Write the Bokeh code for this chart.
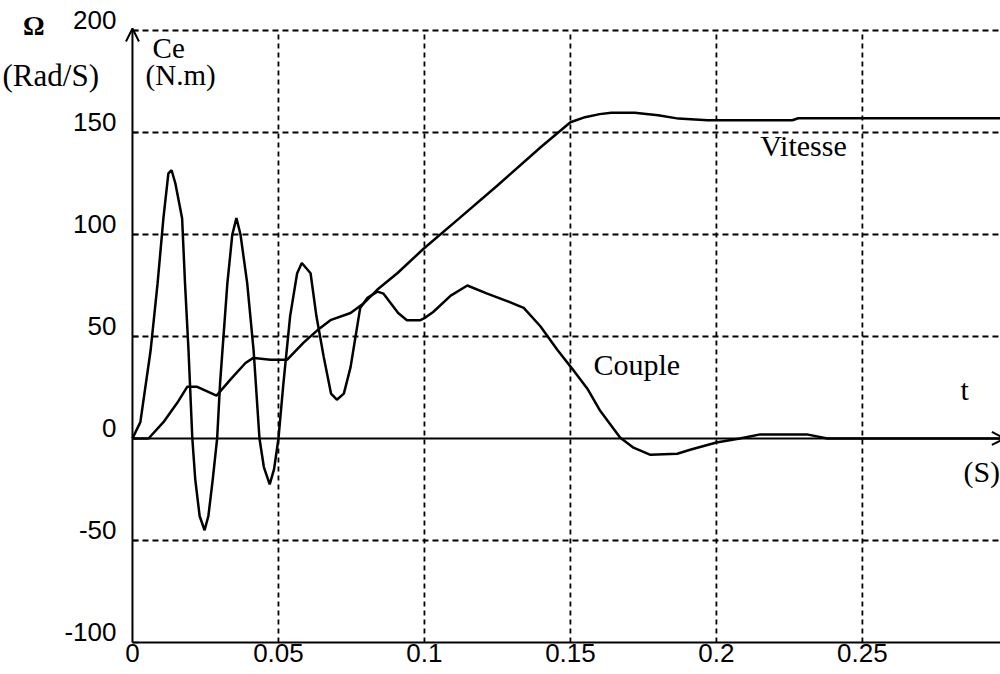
from bokeh.plotting import figure
from bokeh.models import Label, Arrow, OpenHead
from bokeh.core.properties import value
from bokeh.embed import file_html
from bokeh.resources import INLINE

# ---- data ----
t_couple = [0, 0.0027, 0.0062, 0.0086, 0.0106, 0.0123, 0.0134, 0.0147, 0.017, 0.018, 0.0192,
            0.0205, 0.0215, 0.023, 0.0247, 0.026, 0.0275, 0.029,
            0.030, 0.0325, 0.0342, 0.0356, 0.037, 0.0393, 0.0415,
            0.0435, 0.045, 0.047, 0.0485, 0.050,
            0.0517, 0.054, 0.0564, 0.058, 0.061, 0.063, 0.0655, 0.068, 0.070, 0.0724, 0.0747,
            0.078, 0.0805, 0.0839, 0.086, 0.091, 0.094, 0.0986, 0.1, 0.103, 0.109, 0.1147,
            0.1215, 0.129, 0.134, 0.1397, 0.1455, 0.1507, 0.156, 0.160, 0.167, 0.1716, 0.1774,
            0.1866, 0.191, 0.2, 0.208, 0.215, 0.231, 0.238, 0.2975]
couple = [0, 8, 43, 76, 108, 130, 131.5, 125, 108, 76, 43,
          0, -20, -38, -45, -38, -20, 0,
          27, 76, 100, 108, 100, 76, 43,
          0, -14, -22.5, -15, 0,
          27, 60, 81, 86, 81, 60, 40, 22, 19, 22, 35,
          64, 69, 72, 71, 61.5, 58, 58, 59, 62, 70, 75,
          71, 67, 64, 55, 43.5, 34, 24, 14, 0.5, -4.5, -8,
          -7.5, -5.5, -2, 0, 2, 2, 0, 0]

t_vitesse = [0, 0.0055, 0.0106, 0.0154, 0.0188, 0.022, 0.0288, 0.0336, 0.0387, 0.0414, 0.0473,
             0.053, 0.0586, 0.0633, 0.0678, 0.0747, 0.079, 0.0839, 0.0907, 0.0997, 0.112,
             0.125, 0.14, 0.15, 0.155, 0.16, 0.164, 0.172, 0.18, 0.187, 0.197, 0.226, 0.228,
             0.2975]
vitesse = [0, 0, 8, 17.6, 25.4, 25.4, 21, 29, 37, 39.5, 38.6,
           38.6, 47, 53, 58, 61.5, 66, 73, 81, 93, 108,
           124, 143, 155, 157.5, 159, 159.7, 159.7, 158.5, 156.8, 156, 156, 157,
           157]

x_ticks = [0, 0.05, 0.1, 0.15, 0.2, 0.25]
x_tick_labels = ["0", "0.05", "0.1", "0.15", "0.2", "0.25"]
y_ticks = [-100, -50, 0, 50, 100, 150, 200]
y_tick_labels = ["-100", "-50", "0", "50", "100", "150", "200"]

# axis window of the original plot
X_MIN, X_MAX = 0, 0.30
Y_MIN, Y_MAX = -100, 200

# canvas extent expressed in data units (the plot frame fills the whole page)
VIEW_X = (-0.0452, 0.2973)
VIEW_Y = (-115.7, 214.7)

NUM_FONT = value("Liberation Sans")
TXT_FONT = "Liberation Serif"

p = figure(width=1000, height=674, x_range=VIEW_X, y_range=VIEW_Y,
           output_backend="svg", toolbar_location=None,
           min_border=0, min_border_left=0, min_border_right=0,
           min_border_top=0, min_border_bottom=0)
p.outline_line_color = None
p.axis.visible = False
p.grid.visible = False
p.background_fill_color = "white"
p.border_fill_color = "white"

# dashed grid
vx = [t for t in x_ticks if t > X_MIN] + [X_MAX]
p.segment(x0=vx, y0=[Y_MIN] * len(vx), x1=vx, y1=[Y_MAX] * len(vx),
          line_color="black", line_width=1.8, line_dash="5 4")
hy = [y for y in y_ticks if y not in (Y_MIN, 0)]
p.segment(x0=[X_MIN] * len(hy), y0=hy, x1=[VIEW_X[1]] * len(hy), y1=hy,
          line_color="black", line_width=1.8, line_dash="6 4")

# bottom frame line
p.segment(x0=[X_MIN], y0=[Y_MIN], x1=[VIEW_X[1]], y1=[Y_MIN], line_color="black", line_width=2)

# inner ticks on the vertical axis
p.ray(x=[X_MIN] * len(y_ticks), y=y_ticks, length=6, length_units="screen", angle=0,
      line_color="black", line_width=1.5)

# curves
p.line(t_vitesse, vitesse, line_color="black", line_width=2.5)
p.line(t_couple, couple, line_color="black", line_width=2.5)

# axes with arrows
p.add_layout(Arrow(end=OpenHead(size=13, line_width=2, line_color="black"),
                   x_start=X_MIN, y_start=Y_MIN, x_end=X_MIN, y_end=Y_MAX + 1,
                   line_color="black", line_width=2))
p.add_layout(Arrow(end=OpenHead(size=13, line_width=2, line_color="black"),
                   x_start=X_MIN, y_start=0, x_end=VIEW_X[1] + 0.0015, y_end=0,
                   line_color="black", line_width=2))

# tick labels (vertical-axis labels sit just above their tick, as in the original)
p.text(x=[X_MIN] * len(y_ticks), y=y_ticks, text=y_tick_labels, x_offset=-16, y_offset=-10,
       text_align="right", text_baseline="middle",
       text_font=NUM_FONT, text_font_size="26px", text_color="black")
p.text(x=x_ticks, y=[Y_MIN] * len(x_ticks), text=x_tick_labels, y_offset=2,
       text_align="center", text_baseline="top",
       text_font=NUM_FONT, text_font_size="26px", text_color="black")

# annotations
def lab(txt, x, y, size="30px", style="normal"):
    p.add_layout(Label(x=x, y=y, text=txt, text_font=TXT_FONT, text_font_size=size,
                       text_font_style=style, text_color="black",
                       text_align="left", text_baseline="middle"))

lab("\u03a9", -0.0375, 202, size="27px", style="bold")
lab("(Rad/S)", -0.0445, 178, size="31px")
lab("Ce", 0.0069, 191.5, size="29px")
lab("(N.m)", 0.0045, 178, size="29px")
lab("Vitesse", 0.215, 143.7)
lab("Couple", 0.1579, 36.3)
lab("t", 0.2836, 24)
lab("(S)", 0.2846, -16)

open("out.html", "w").write(file_html(p, INLINE))
